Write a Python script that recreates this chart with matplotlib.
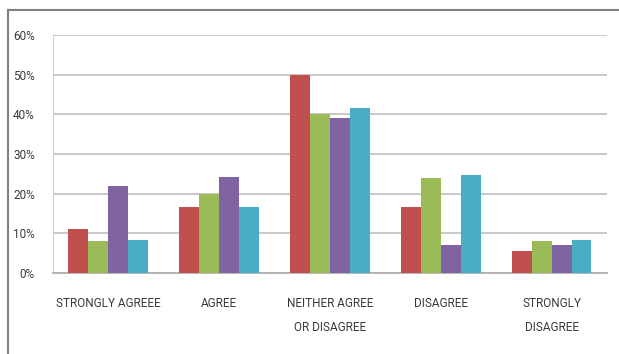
import numpy as np
import matplotlib
matplotlib.use('Agg')
import matplotlib.pyplot as plt
from matplotlib.lines import Line2D
from matplotlib.ticker import PercentFormatter

plt.rcParams['font.family'] = ['Roboto', 'DejaVu Sans']

categories = ['STRONGLY AGREEE', 'AGREE', 'NEITHER AGREE\nOR DISAGREE', 'DISAGREE', 'STRONGLY\nDISAGREE']
series_1 = [11, 16.7, 50, 16.7, 5.5]
series_2 = [8, 20, 40, 24, 8]
series_3 = [22, 24.3, 39, 7, 7]
series_4 = [8.3, 16.7, 41.5, 24.7, 8.2]
colors = ['#C0504D', '#9BBB59', '#8064A2', '#4BACC6']

fig = plt.figure(figsize=(6.19, 3.54), dpi=100)
ax = fig.add_axes([0.0856, 0.229, 0.895, 0.672])

x = np.arange(len(categories))
w = 0.18
for i, vals in enumerate([series_1, series_2, series_3, series_4]):
    ax.bar(x + (i - 1.5) * w, vals, width=w, color=colors[i], zorder=3)

ax.set_xlim(-0.5, len(categories) - 0.5)
ax.set_ylim(0, 60)
ax.set_yticks(np.arange(0, 61, 10))
ax.yaxis.set_major_formatter(PercentFormatter(decimals=0))
ax.set_xticks(x)
ax.set_xticklabels(categories, linespacing=2.15)
ax.tick_params(axis='both', length=0, labelsize=8.5, labelcolor='#3a3a3a')
ax.tick_params(axis='y', pad=13)
ax.tick_params(axis='x', pad=17)
ax.grid(axis='y', color='#c4c4c4', linewidth=1.3, zorder=0)
for s in ['top', 'right']:
    ax.spines[s].set_visible(False)
ax.spines['left'].set_color('#d0d0d0')
ax.spines['bottom'].set_color('#b0b0b0')
ax.spines['bottom'].set_linewidth(1.3)

# outer chart frame
fig.add_artist(Line2D([0.0129, 1.0], [0.9718, 0.9718], color='#808080', linewidth=1.5))
fig.add_artist(Line2D([0.0129, 0.0129], [0.0, 0.9718], color='#808080', linewidth=1.5))

fig.savefig('out.png', dpi=100)
